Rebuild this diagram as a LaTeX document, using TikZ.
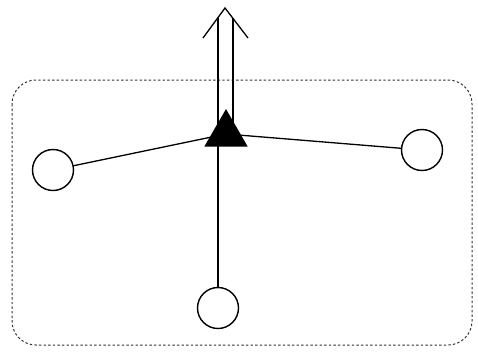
\documentclass[tikz,border=0pt]{standalone}
\usetikzlibrary{shapes.geometric}
\begin{document}
\begin{tikzpicture}[x=1pt,y=-1pt,
  endpt/.style={circle,draw,line width=1.4pt,minimum size=41pt,inner sep=0pt},
  hub/.style={regular polygon,regular polygon sides=3,fill=black,minimum size=50pt,inner sep=0pt},
  link/.style={line width=1.3pt},
  frame/.style={draw=black!80,line width=1pt,dash pattern=on 2.4pt off 2.2pt,rounded corners=24pt},
  arrowline/.style={line width=1.3pt}]
\useasboundingbox (0,0) rectangle (478,351);
\draw[frame] (12,80) rectangle (472,345);
\node[endpt] (l) at (53,170) {};
\node[endpt] (r) at (422,150) {};
\node[endpt] (b) at (218,308) {};
\node[hub] (t) at (226,134) {};
\coordinate (tip) at (225,8);
\coordinate (wl) at (203,38);
\coordinate (wr) at (248,38);
\coordinate (sl) at (218,17.5);
\coordinate (sr) at (233,18.4);
\draw[link] (t.center) -- (l);
\draw[link] (t.center) -- (r);
\draw[link] (t.center -| b) -- (b);
\draw[arrowline] (wl) -- (tip) -- (wr);
\draw[arrowline] (sl) -- (sl |- t.center);
\draw[arrowline] (sr) -- (sr |- t.center);
\end{tikzpicture}
\end{document}
